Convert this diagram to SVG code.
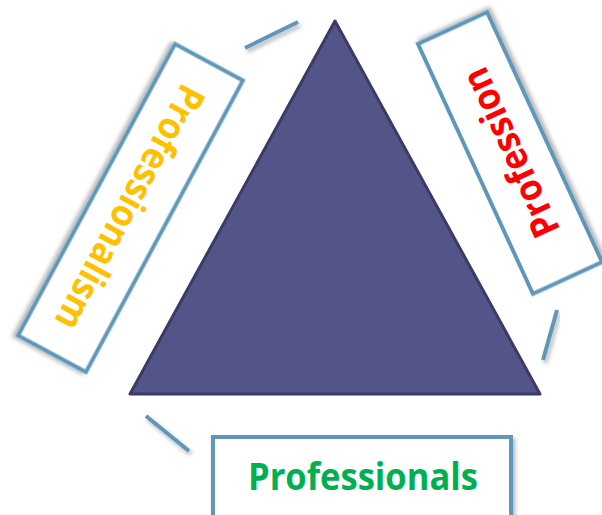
<svg xmlns="http://www.w3.org/2000/svg" width="602" height="515" viewBox="0 0 602 515">
<defs>
<filter id="sh" x="-20%" y="-20%" width="140%" height="140%">
<feDropShadow dx="2" dy="3" stdDeviation="2" flood-color="#000" flood-opacity="0.3"/>
</filter>
</defs>
<style>
.box{fill:#fff;stroke:#5f97bb;stroke-width:4;filter:url(#sh)}
.con{stroke:#5f97bb;stroke-width:4;fill:none;filter:url(#sh)}
.lbl{font-family:"Open Sans","Liberation Sans",Arial,sans-serif;font-weight:bold;font-size:38px;text-anchor:middle}
</style>
<rect width="602" height="515" fill="#fff"/>
<g id="triangle">
<polygon points="335,21 130,394 540,394" fill="#535589" stroke="#3b3b68" stroke-width="3" stroke-linejoin="round"/>
</g>
<g id="connectors">
<line class="con" x1="245" y1="48" x2="298" y2="22"/>
<line class="con" x1="557" y1="310" x2="543" y2="360"/>
<line class="con" x1="146" y1="416" x2="189" y2="451"/>
</g>
<g id="professionalism" transform="translate(130.5,208) rotate(118.3)">
<rect class="box" x="-165.5" y="-38.5" width="331" height="77"/>
<text class="lbl" x="0" y="14" fill="#ffc000" textLength="272" lengthAdjust="spacingAndGlyphs">Professionalism</text>
</g>
<g id="profession" transform="translate(510,153) rotate(-114.7)">
<rect class="box" x="-137.5" y="-38" width="275" height="76"/>
<text class="lbl" x="0" y="14" fill="#ff0000" textLength="182" lengthAdjust="spacingAndGlyphs">Profession</text>
</g>
<g id="professionals">
<rect class="box" x="213" y="437" width="298" height="84"/>
<text class="lbl" x="363" y="490" fill="#00b050" textLength="230" lengthAdjust="spacingAndGlyphs">Professionals</text>
</g>
</svg>
